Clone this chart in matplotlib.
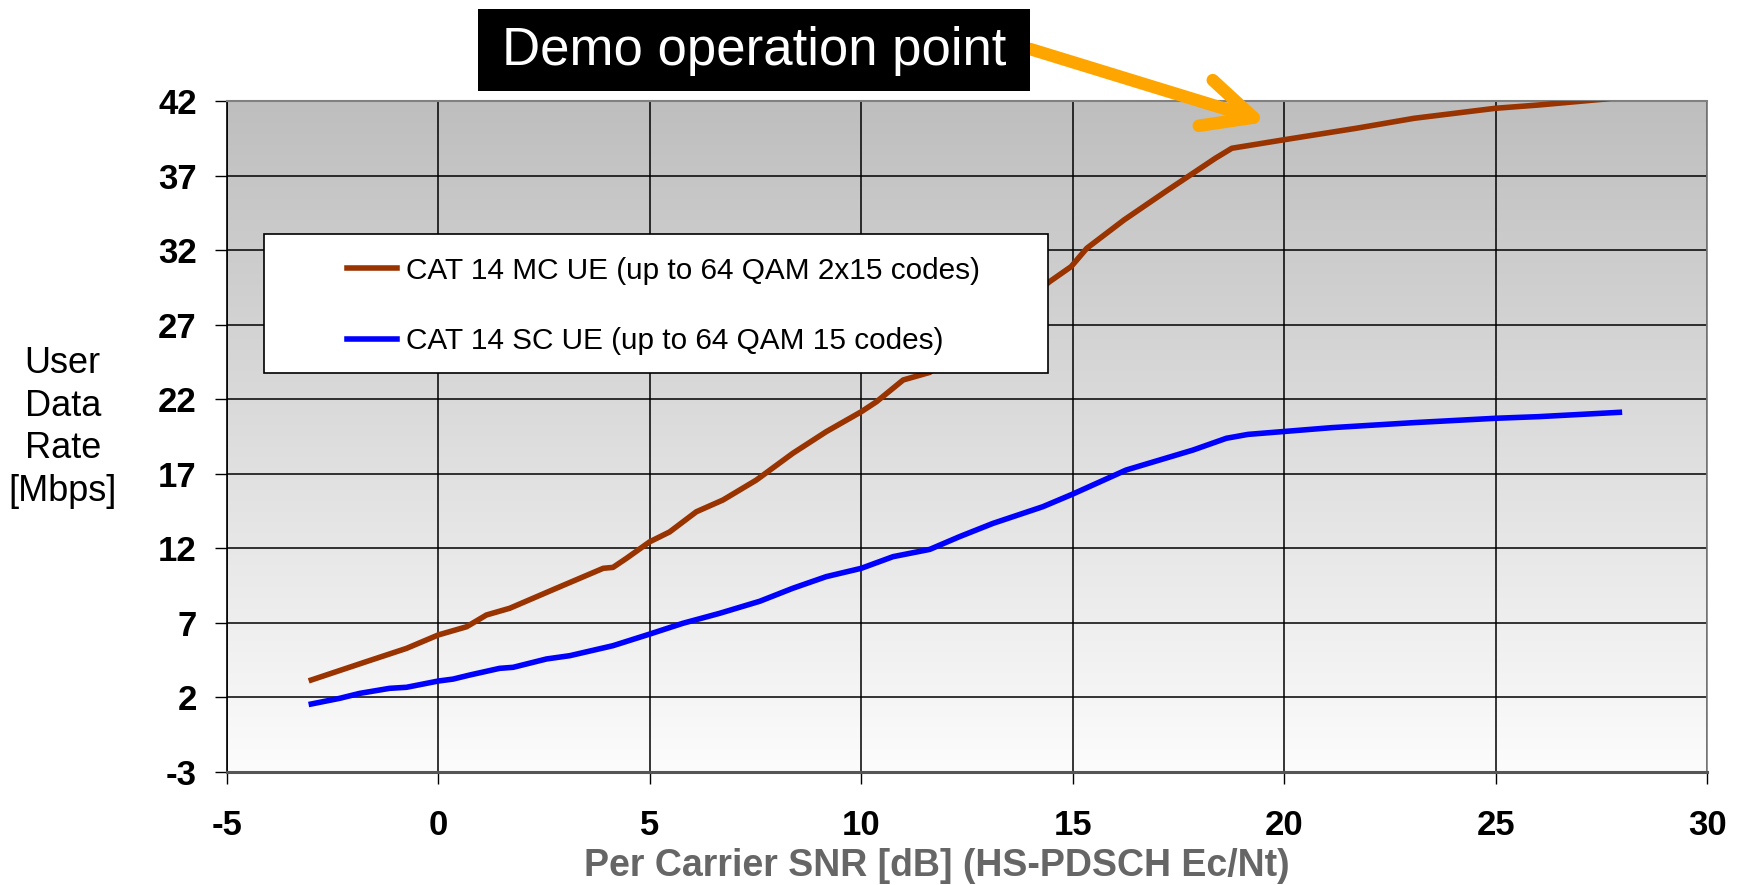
import matplotlib
matplotlib.use('Agg')
import matplotlib.pyplot as plt
import numpy as np
from matplotlib.patches import Rectangle

plt.rcParams['font.family'] = ['Liberation Sans', 'DejaVu Sans']
plt.rcParams['axes.unicode_minus'] = False

# === data ===
snr_mc = [-3, -1.70, -0.75, 0, 0.67, 1.14, 1.69, 2.24, 2.79, 3.90, 4.13, 4.45, 5.0, 5.47, 6.10,
          6.73, 7.52, 8.38, 9.17, 10, 10.36, 10.99, 11.62, 12.5, 13.5, 14.45, 14.96, 15.33,
          16.21, 17.19, 18.37, 18.76, 19.95, 21.70, 23.07, 24.99, 26.01, 27.58, 28]
rate_mc = [3.17, 4.40, 5.29, 6.19, 6.74, 7.53, 7.98, 8.65, 9.32, 10.66, 10.72, 11.33, 12.44,
           13.1, 14.45, 15.24, 16.58, 18.37, 19.82, 21.16, 21.83, 23.29, 23.8, 25.6, 27.7,
           29.88, 30.89, 32.12, 34.02, 35.92, 38.16, 38.83, 39.38, 40.17, 40.84, 41.51, 41.73,
           42.13, 42.3]

snr_sc = [-3, -2.33, -1.86, -1.15, -0.75, 0, 0.35, 0.74, 1.45, 1.77, 2.56, 3.11, 4.13, 5.0,
          5.78, 6.65, 7.6, 8.38, 9.17, 10, 10.75, 11.62, 12.32, 13.11, 14.29, 15, 15.47, 16.26,
          17.05, 17.84, 18.63, 19.14, 21.11, 23.07, 24.99, 26.01, 27.92]
rate_sc = [1.56, 1.94, 2.27, 2.61, 2.68, 3.1, 3.23, 3.5, 3.95, 4.02, 4.58, 4.80, 5.47, 6.25,
           6.97, 7.64, 8.45, 9.32, 10.1, 10.66, 11.44, 11.93, 12.78, 13.67, 14.79, 15.64, 16.24,
           17.25, 17.92, 18.59, 19.38, 19.64, 20.09, 20.43, 20.72, 20.83, 21.12]

label_mc = 'CAT 14 MC UE (up to 64 QAM 2x15 codes)'
label_sc = 'CAT 14 SC UE (up to 64 QAM 15 codes)'

x_ticks = list(range(-5, 31, 5))
y_ticks = list(range(-3, 43, 5))

demo_point = (19.6, 40.6)

c_mc = '#993300'
c_sc = '#0000FF'

fig = plt.figure(figsize=(17.44, 8.85), dpi=100)
ax = fig.add_axes([0.130, 0.1277, 0.849, 0.7582])

# gradient background (grey at top, near white at bottom)
grad = np.linspace(0, 1, 256).reshape(-1, 1)
ax.imshow(grad, extent=(-5, 30, -3, 42), aspect='auto', origin='upper',
          cmap=matplotlib.colors.LinearSegmentedColormap.from_list('bg', ['#bebebe', '#fcfcfc']),
          zorder=0)

ax.plot(snr_mc, rate_mc, color=c_mc, lw=4.0, label=label_mc, zorder=3)
ax.plot(snr_sc, rate_sc, color=c_sc, lw=4.0, label=label_sc, zorder=3)

ax.set_xlim(-5, 30)
ax.set_ylim(-3, 42)
ax.set_xticks(x_ticks)
ax.set_yticks(y_ticks)
ax.grid(True, color='black', lw=1.1)
for gl in ax.get_xgridlines() + ax.get_ygridlines():
    gl.set_zorder(1)

ax.tick_params(axis='y', direction='out', length=8.6, width=1, pad=13, labelsize=25)
ax.tick_params(axis='x', direction='out', length=8.5, width=1, pad=18, labelsize=25)
for t in ax.get_xticklabels() + ax.get_yticklabels():
    t.set_fontweight('bold')

ax.spines['left'].set_color('black')
ax.spines['left'].set_linewidth(1.2)
ax.spines['bottom'].set_color('#555555')
ax.spines['bottom'].set_linewidth(2.2)
ax.spines['top'].set_color('#808080')
ax.spines['top'].set_linewidth(1.5)
ax.spines['right'].set_color('#808080')
ax.spines['right'].set_linewidth(1.2)

# axis titles
fig.text(0.537, 0.0215, 'Per Carrier SNR [dB] (HS-PDSCH Ec/Nt)', fontsize=27,
         fontweight='bold', color='#666666', ha='center', va='center')
fig.text(0.036, 0.517, 'User\nData\nRate\n[Mbps]', fontsize=26, ha='center', va='center',
         linespacing=1.29)

# legend: white box drawn separately, entries placed inside it
ax.add_patch(Rectangle((0.025, 0.595), 0.530, 0.207, transform=ax.transAxes,
                       facecolor='white', edgecolor='black', lw=1.2, zorder=4))
leg = ax.legend(loc='upper left', bbox_to_anchor=(0.081, 0.768), frameon=False,
                fontsize=21.4, handlelength=1.7, handletextpad=0.3, labelspacing=1.43,
                borderpad=0, borderaxespad=0)
leg.set_zorder(5)

# "Demo operation point" box
fig.patches.append(Rectangle((478 / 1744, 1 - 91 / 885), 552 / 1744, 82 / 885,
                             transform=fig.transFigure, facecolor='black', edgecolor='none'))
fig.text(754 / 1744, 1 - 51 / 885, 'Demo operation point', color='white', fontsize=38,
         ha='center', va='center')

ax.annotate('', xy=demo_point, xycoords='data',
            xytext=(1030 / 1744, 1 - 49 / 885), textcoords='figure fraction',
            arrowprops=dict(arrowstyle='->,head_length=0.9,head_width=0.43', color='#FFA500',
                            lw=9, mutation_scale=40, capstyle='round', joinstyle='round',
                            shrinkA=0, shrinkB=0),
            annotation_clip=False, zorder=6)

fig.savefig('out.png', dpi=100)
